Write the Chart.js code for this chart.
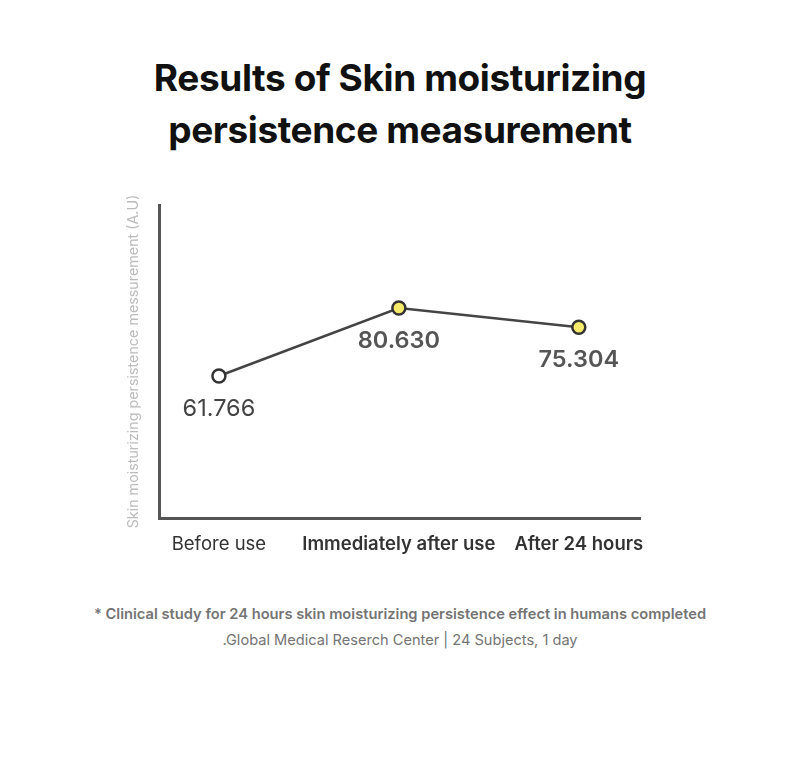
<!DOCTYPE html>
<html>
<head>
<meta charset="utf-8">
<script src="https://cdn.jsdelivr.net/npm/chart.js"></script>
<style>
  body { margin: 0; background: #fff; font-family: Inter, "Noto Sans", sans-serif; }
  .page { position: relative; width: 800px; height: 764px; }
  .title { position: absolute; top: 52px; left: 0; width: 800px; margin: 0; text-align: center; font-size: 37px; line-height: 52px; font-weight: 700; color: #111; letter-spacing: -0.4px; }
  .chart-box { position: absolute; left: 100px; top: 180px; width: 600px; height: 390px; }
  .note { position: absolute; left: 0; width: 800px; text-align: center; color: #747474; }
  .note.main { top: 605px; font-size: 14.7px; font-weight: 600; }
  .note.sub { top: 631px; font-size: 14.6px; font-weight: 400; }
</style>
</head>
<body>
<div class="page">
  <h1 class="title">Results of Skin moisturizing<br>persistence measurement</h1>
  <div class="chart-box"><canvas id="chart"></canvas></div>
  <div class="note main">* Clinical study for 24 hours skin moisturizing persistence effect in humans completed</div>
  <div class="note sub">.Global Medical Reserch Center | 24 Subjects, 1 day</div>
</div>

<script>
  const categories = ['Before use', 'Immediately after use', 'After 24 hours'];
  const moistureValues = [61.766, 80.630, 75.304];
  const valueLabels = ['61.766', '80.630', '75.304'];
  const pointFills = ['#ffffff', '#f6ea6a', '#f6ea6a'];

  // numbers printed under each point
  const valueLabelPlugin = {
    id: 'valueLabels',
    afterDatasetsDraw(chart) {
      const ctx = chart.ctx;
      const meta = chart.getDatasetMeta(0);
      ctx.save();
      ctx.textAlign = 'center';
      ctx.textBaseline = 'middle';
      meta.data.forEach((pt, i) => {
        ctx.font = (i === 0 ? '400' : '600') + ' 23.5px Inter, "Noto Sans", sans-serif';
        ctx.fillStyle = i === 0 ? '#444' : '#555';
        ctx.fillText(valueLabels[i], pt.x, pt.y + 33);
      });
      ctx.restore();
    }
  };

  new Chart(document.getElementById('chart'), {
    type: 'line',
    data: {
      datasets: [{
        data: moistureValues.map((v, i) => ({ x: i, y: v })),
        borderColor: '#444',
        borderWidth: 2.5,
        pointRadius: 6.5,
        pointBorderWidth: 2.5,
        pointBorderColor: '#333',
        pointBackgroundColor: pointFills,
        tension: 0
      }]
    },
    options: {
      responsive: true,
      maintainAspectRatio: false,
      animation: false,
      layout: { padding: { top: 25, right: 60, left: 0, bottom: 0 } },
      plugins: { legend: { display: false }, tooltip: { enabled: false } },
      scales: {
        x: {
          type: 'linear',
          min: -0.333,
          max: 2.34,
          afterBuildTicks: s => { s.ticks = categories.map((_, i) => ({ value: i })); },
          afterFit: s => { s.height = 52; },
          grid: { display: false, drawTicks: false },
          border: { display: true, color: '#555', width: 3 },
          ticks: {
            padding: 15,
            color: '#333',
            autoSkip: false,
            maxRotation: 0,
            callback: v => categories[v],
            font: c => ({ family: 'Inter, "Noto Sans", sans-serif', size: 18.5, weight: c.index === 0 ? 400 : 600 })
          }
        },
        y: {
          min: 22.38,
          max: 109.2,
          afterFit: s => { s.width = 59; },
          grid: { display: false, drawTicks: false },
          border: { display: true, color: '#555', width: 3 },
          ticks: { display: false },
          title: {
            display: true,
            text: 'Skin moisturizing persistence messurement (A.U)',
            color: '#bcbcbc',
            padding: { top: 25, bottom: 0 },
            font: { family: 'Inter, "Noto Sans", sans-serif', size: 14.3, weight: 400 }
          }
        }
      }
    },
    plugins: [valueLabelPlugin]
  });
</script>
</body>
</html>
